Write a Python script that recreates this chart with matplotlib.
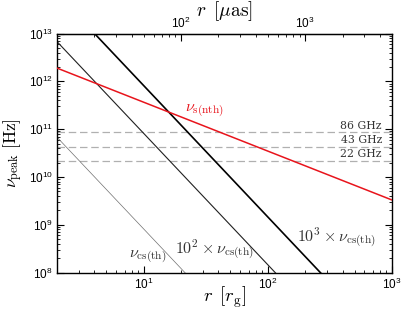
import matplotlib
matplotlib.use("Agg")
import matplotlib.pyplot as plt
import numpy as np

# radius in gravitational radii, and 1 r_g in micro-arcseconds
r_ends = [2.0, 1000.0]
uas_per_rg = 5.0

# synchrotron peak of the non-thermal electrons (read at both ends)
nu_s_nth = [1.9e12, 3.3e9]

# thermal Compton-synchrotron peak and its scaled copies
r_cs = [2.0, 300.0]
nu_cs_th = [6.8e10, 7.1e4]
cs_factors = [1, 1e2, 1e3]

# VLBI observing bands
band_freqs = [86e9, 43e9, 22e9]
band_labels = ["86 GHz", "43 GHz", "22 GHz"]

plt.rcParams["font.family"] = ["Liberation Sans", "DejaVu Sans"]
plt.rcParams["mathtext.fontset"] = "cm"

fig = plt.figure(figsize=(4.07, 3.14), dpi=100)
ax = fig.add_axes([0.140, 0.132, 0.823, 0.761])

for freq, label in zip(band_freqs, band_labels):
    ax.axhline(freq, color="#b0b0b0", lw=0.9, ls=(0, (6, 3)), zorder=1)
    ax.text(830, freq * 1.06, label, ha="right", va="bottom",
            fontsize=7.8, family="serif", math_fontfamily="cm",
            color="#333333")

ax.plot(r_ends, nu_s_nth, color="#e8141c", lw=1.1, zorder=3)

cs_styles = [(0.5, "#707070"), (0.8, "#202020"), (1.2, "black")]
for factor, (lw, col) in zip(cs_factors, cs_styles):
    ax.plot(r_cs, np.array(nu_cs_th) * factor, color=col, lw=lw, zorder=2)

ann = dict(fontsize=11.5, va="center", color="#333333")
ax.text(21.5, 2.4e11, r"$\nu_{\rm s(nth)}$", ha="left",
        **{**ann, "color": "#e8141c"})
ax.text(10.8, 2.1e8, r"$\nu_{\rm cs(th)}$", ha="center", **ann)
ax.text(37.4, 2.95e8, r"$10^2\times\nu_{\rm cs(th)}$", ha="center", **ann)
ax.text(356, 5.3e8, r"$10^3\times\nu_{\rm cs(th)}$", ha="center", **ann)

ax.set_xscale("log")
ax.set_yscale("log")
ax.set_xlim(2, 1000)
ax.set_ylim(1e8, 1e13)
ax.set_xlabel(r"$r\ \,[r_{\rm g}]$", fontsize=13.5)
ax.xaxis.set_label_coords(0.5, -0.05)
ax.set_ylabel(r"$\nu_{\rm peak}\ [{\rm Hz}]$", fontsize=12.5, labelpad=3)
ax.tick_params(which="both", direction="in", top=False, right=True,
               labelsize=8.5, pad=3)
ax.tick_params(which="major", length=5)
ax.tick_params(which="minor", length=2.5)
ax.yaxis.set_major_locator(matplotlib.ticker.LogLocator(base=10, numticks=10))
ax.yaxis.set_minor_locator(matplotlib.ticker.LogLocator(
    base=10, subs=np.arange(2, 10), numticks=10))

top = ax.secondary_xaxis("top", functions=(lambda r: r * uas_per_rg,
                                           lambda m: m / uas_per_rg))
top.set_xticks([100, 1000])
top.set_xlabel(r"$r\ \,[\mu{\rm as}]$", fontsize=14, labelpad=0)
top.tick_params(which="both", direction="in", labelsize=8.5, pad=2)
top.tick_params(which="major", length=5)
top.tick_params(which="minor", length=2.5)

for spine in ax.spines.values():
    spine.set_linewidth(1.0)

fig.savefig("out.png", dpi=100)
